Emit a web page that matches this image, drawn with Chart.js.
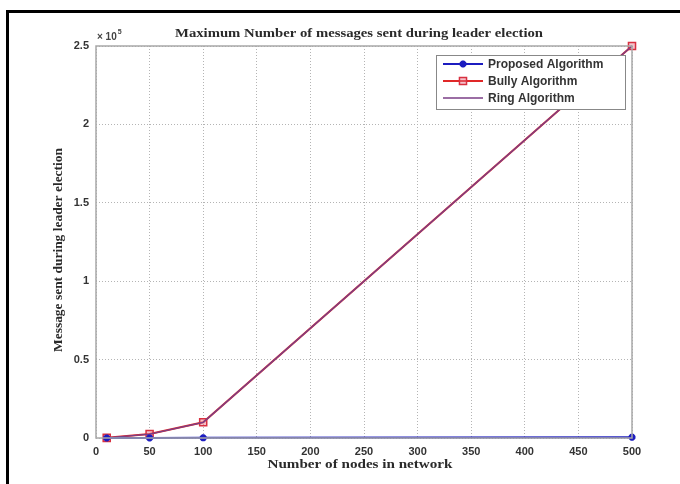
<!DOCTYPE html>
<html>
<head>
<meta charset="utf-8">
<script src="https://cdn.jsdelivr.net/npm/chart.js@4.4.0/dist/chart.umd.min.js"></script>
<style>
  html, body { margin: 0; padding: 0; background: #fff; }
  #wrap { width: 680px; height: 484px; }
</style>
</head>
<body>
<div id="wrap"><canvas id="grafico" width="680" height="484"></canvas></div>
<script>
// dados
const nodes = [10, 50, 100, 500];
const proposed = [10, 50, 100, 500];
const bully = [100, 2500, 10000, 250000];
const ring = [100, 2500, 10000, 250000];
const xTicks = [0, 50, 100, 150, 200, 250, 300, 350, 400, 450, 500];
const yTicks = [0, 0.5, 1, 1.5, 2, 2.5];

const titulo = 'Maximum Number of messages sent during leader election';
const tituloX = 'Number of nodes in network';
const tituloY = 'Message sent during leader election';

const serif = '"Liberation Serif", "DejaVu Serif", serif';
const sans = '"Liberation Sans", Arial, sans-serif';

function pontos(ys) {
    return nodes.map((x, i) => ({ x, y: ys[i] }));
}

// escreve o texto esticado para ocupar a largura desejada
function textoLargura(ctx, txt, cx, cy, largura, fonte, rot) {
    ctx.save();
    ctx.font = fonte;
    const w = ctx.measureText(txt).width;
    ctx.translate(cx, cy);
    if (rot) ctx.rotate(rot);
    ctx.scale(largura / w, 1);
    ctx.textAlign = 'center';
    ctx.textBaseline = 'middle';
    ctx.fillText(txt, 0, 0);
    ctx.restore();
}

const molduraMatlab = {
    id: 'molduraMatlab',
    beforeDraw(chart) {
        const ctx = chart.ctx;
        ctx.save();
        ctx.fillStyle = '#fff';
        ctx.fillRect(0, 0, chart.width, chart.height);
        // moldura preta da imagem
        ctx.strokeStyle = '#000';
        ctx.lineWidth = 3;
        ctx.beginPath();
        ctx.moveTo(7.5, chart.height);
        ctx.lineTo(7.5, 11.5);
        ctx.lineTo(chart.width, 11.5);
        ctx.stroke();
        ctx.restore();
    },
    afterDraw(chart) {
        const ctx = chart.ctx;
        const a = chart.chartArea;
        ctx.save();
        // caixa dos eixos
        ctx.strokeStyle = '#a8a8a8';
        ctx.lineWidth = 1.5;
        ctx.strokeRect(a.left, a.top, a.right - a.left, a.bottom - a.top);

        // titulos
        ctx.fillStyle = '#2a2a2a';
        textoLargura(ctx, titulo, 359, 34, 368, 'bold 12px ' + serif);
        textoLargura(ctx, tituloX, 360, 465, 185, 'bold 12px ' + serif);
        textoLargura(ctx, tituloY, 59, 250, 204, 'bold 12px ' + serif, -Math.PI / 2);

        // expoente x 10^5
        ctx.textAlign = 'left';
        ctx.textBaseline = 'middle';
        ctx.font = 'bold 10px ' + sans;
        ctx.fillStyle = '#444';
        const base = '\u00d7 10';
        ctx.fillText(base, a.left + 1, 37);
        const wb = ctx.measureText(base).width;
        ctx.font = 'bold 7px ' + sans;
        ctx.fillText('5', a.left + 2 + wb, 32);

        // legenda
        const lx = 436, ly = 55, lw = 189, lh = 54;
        ctx.fillStyle = '#fff';
        ctx.fillRect(lx, ly, lw, lh);
        ctx.strokeStyle = '#888';
        ctx.lineWidth = 1;
        ctx.strokeRect(lx + 0.5, ly + 0.5, lw, lh);
        const linhas = [64, 81, 98];
        chart.data.datasets.forEach((ds, i) => {
            const y = linhas[i];
            ctx.strokeStyle = ds.borderColor;
            ctx.lineWidth = ds.borderWidth;
            ctx.beginPath();
            ctx.moveTo(443, y);
            ctx.lineTo(483, y);
            ctx.stroke();
            if (ds.pointRadius > 0) {
                ctx.fillStyle = ds.pointBackgroundColor;
                ctx.strokeStyle = ds.pointBorderColor;
                ctx.lineWidth = ds.pointBorderWidth;
                Chart.helpers.drawPoint(ctx, {
                    pointStyle: ds.pointStyle,
                    radius: ds.pointRadius,
                    borderWidth: ds.pointBorderWidth
                }, 463, y);
            }
            ctx.fillStyle = '#333';
            ctx.font = 'bold 12px ' + sans;
            ctx.textAlign = 'left';
            ctx.fillText(ds.label, 488, y + 1);
        });
        ctx.restore();
    }
};

const gradeCor = '#b4b4b4';

new Chart(document.getElementById('grafico'), {
    type: 'line',
    data: {
        datasets: [
            {
                label: 'Proposed Algorithm',
                data: pontos(proposed),
                order: -2,
                borderColor: '#1c1cc0',
                borderWidth: 2,
                pointStyle: 'star',
                pointRadius: 3.5,
                pointBorderWidth: 2.5,
                pointBorderColor: '#1c1cc0',
                pointBackgroundColor: '#1c1cc0'
            },
            {
                label: 'Bully Algorithm',
                data: pontos(bully),
                order: 0,
                borderColor: '#e02828',
                borderWidth: 2,
                pointStyle: 'rect',
                pointRadius: 5,
                pointBorderWidth: 1.5,
                pointBorderColor: '#d83040',
                pointBackgroundColor: 'rgba(230,120,140,0.45)'
            },
            {
                label: 'Ring Algorithm',
                data: pontos(ring),
                order: -1,
                borderColor: '#7a3e86',
                borderWidth: 1.3,
                pointRadius: 0,
                pointBorderWidth: 0,
                pointStyle: 'circle',
                pointBorderColor: '#7a3e86',
                pointBackgroundColor: '#7a3e86'
            }
        ]
    },
    options: {
        responsive: false,
        animation: false,
        clip: false,
        layout: { padding: { left: 0, right: 48, top: 46, bottom: 0 } },
        plugins: { legend: { display: false }, title: { display: false }, tooltip: { enabled: false } },
        scales: {
            x: {
                type: 'linear',
                min: 0,
                max: 500,
                afterBuildTicks: s => { s.ticks = xTicks.map(v => ({ value: v })); },
                afterFit: s => { s.height = 46; },
                grid: { color: gradeCor, drawTicks: false, lineWidth: 1 },
                border: { display: false, dash: [1, 2] },
                ticks: { color: '#333', font: { family: sans, size: 11, weight: 'bold' }, padding: 7, maxRotation: 0 }
            },
            y: {
                min: 0,
                max: 250000,
                afterBuildTicks: s => { s.ticks = yTicks.map(v => ({ value: v * 1e5 })); },
                afterFit: s => { s.width = 96; },
                grid: { color: gradeCor, drawTicks: false, lineWidth: 1 },
                border: { display: false, dash: [1, 2] },
                ticks: {
                    color: '#333',
                    font: { family: sans, size: 11, weight: 'bold' },
                    padding: 7,
                    callback: v => String(v / 1e5)
                }
            }
        }
    },
    plugins: [molduraMatlab]
});
</script>
</body>
</html>
